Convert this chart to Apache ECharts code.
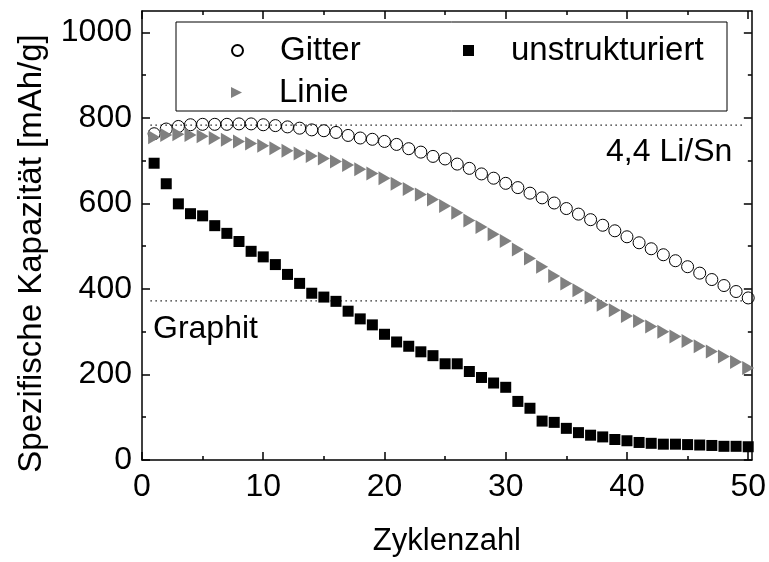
<!DOCTYPE html>
<html>
<head>
<meta charset="utf-8">
<script src="https://cdn.jsdelivr.net/npm/echarts@6/dist/echarts.min.js"></script>
<style>
  html, body { margin: 0; padding: 0; background: #fff; }
  #chart { width: 769px; height: 562px; }
</style>
</head>
<body>
<div id="chart"></div>
<script>
// Cycle numbers 1..50
const cycles = [1,2,3,4,5,6,7,8,9,10,11,12,13,14,15,16,17,18,19,20,21,22,23,24,25,
                26,27,28,29,30,31,32,33,34,35,36,37,38,39,40,41,42,43,44,45,46,47,48,49,50];

// Specific capacity [mAh/g] per cycle
const gitter = [763,774,780,784,785,785,785,786,786,784,782,779,776,772,770,766,
                759,753,750,745,738,728,720,710,704,692,682,669,659,647,637,624,
                613,601,588,575,562,549,536,522,508,494,480,466,452,437,422,408,394,379];
const linie = [755,760,762,760,757,753,749,745,740,735,729,723,717,711,705,698,
               690,680,670,659,646,634,621,609,594,578,560,545,528,512,492,471,
               452,430,413,397,380,363,350,337,325,312,300,289,278,266,254,242,229,215];
const unstrukturiert = [694,646,599,576,571,548,530,511,488,475,457,434,413,390,381,371,
                        348,330,316,294,276,266,253,244,225,225,207,193,180,170,137,121,
                        91,88,74,64,58,54,48,45,41,39,37,37,36,35,34,32,32,31];

// Theoretical reference capacities
const refLiSn = 783;
const refGraphit = 372;
const refSpan = [0.7, 49.5];

const xMajor = [0, 10, 20, 30, 40, 50];
const xMinor = [5, 15, 25, 35, 45];
const yMajor = [0, 200, 400, 600, 800, 1000];
const yMinor = [100, 300, 500, 700, 900];

const seriesNames = ['Gitter', 'Linie', 'unstrukturiert'];
const axisTitles = { x: 'Zyklenzahl', y: 'Spezifische Kapazität [mAh/g]' };
const refTexts = ['4,4 Li/Sn', 'Graphit'];

const pair = (vals) => cycles.map((c, i) => [c, vals[i]]);

const FONT = 'Liberation Sans, Arial, sans-serif';
const FS = 32;
const X_MAX = 50.3, Y_MAX = 1050;

function xAx(position, ticks, len, showLine, labels) {
  return {
    type: 'value', position: position, min: 0, max: X_MAX, offset: 0,
    axisLine: { show: showLine, onZero: false, lineStyle: { color: '#000', width: 1.5 } },
    axisTick: { show: true, inside: true, length: len, customValues: ticks,
                lineStyle: { color: '#000', width: 1.5 } },
    axisLabel: labels ? { show: true, customValues: ticks, color: '#000', fontSize: FS,
                          fontFamily: FONT, margin: 11, formatter: (v) => String(v) }
                      : { show: false },
    splitLine: { show: false }
  };
}
function yAx(position, ticks, len, showLine, labels) {
  return {
    type: 'value', position: position, min: 0, max: Y_MAX, offset: 0,
    axisLine: { show: showLine, onZero: false, lineStyle: { color: '#000', width: 1.5 } },
    axisTick: { show: true, inside: true, length: len, customValues: ticks,
                lineStyle: { color: '#000', width: 1.5 } },
    axisLabel: labels ? { show: true, customValues: ticks, color: '#000', fontSize: FS,
                          fontFamily: FONT, margin: 10, formatter: (v) => String(v) }
                      : { show: false },
    splitLine: { show: false }
  };
}

const xAxes = [
  Object.assign(xAx('bottom', xMajor, 8, true, true), {
    name: axisTitles.x, nameLocation: 'middle', nameGap: 66,
    nameTextStyle: { color: '#000', fontSize: 31, fontFamily: FONT }
  }),
  xAx('bottom', xMinor, 4, false, false),
  xAx('top', xMajor, 8, true, false),
  xAx('top', xMinor, 4, false, false)
];
const yAxes = [
  Object.assign(yAx('left', yMajor, 8, true, true), {
    name: axisTitles.y, nameLocation: 'middle', nameGap: 94,
    nameTextStyle: { color: '#000', fontSize: 33, fontFamily: FONT, padding: [0, 36, 0, 0] }
  }),
  yAx('left', yMinor, 4, false, false),
  yAx('right', yMajor, 8, true, false),
  yAx('right', yMinor, 4, false, false)
];

const triRight = 'path://M0,0 L10,5 L0,10 Z';

function refLine(v) {
  return {
    type: 'line', silent: true, symbol: 'none', z: 1,
    data: [[refSpan[0], v], [refSpan[1], v]],
    lineStyle: { color: '#000', width: 1.3, type: [1.3, 3.7] }
  };
}

function legendFor(name, left, top, padLeft) {
  return {
    data: [name], left: left, top: top, orient: 'horizontal',
    itemWidth: 11, itemHeight: 11, selectedMode: false,
    textStyle: { color: '#000', fontSize: 33, fontFamily: FONT, padding: [0, 0, 0, padLeft] }
  };
}

const chart = echarts.init(document.getElementById('chart'), null, { renderer: 'canvas' });
chart.setOption({
  animation: false,
  backgroundColor: '#fff',
  grid: { left: 142, right: 16, top: 11, bottom: 96, containLabel: false },
  xAxis: xAxes,
  yAxis: yAxes,
  legend: [
    legendFor(seriesNames[0], 226, 29, 32),
    legendFor(seriesNames[2], 458, 29, 32),
    legendFor(seriesNames[1], 226, 71, 32)
  ],
  graphic: [
    { type: 'rect', z: 0, shape: { x: 176, y: 22, width: 551, height: 89 },
      style: { fill: '#fff', stroke: '#000', lineWidth: 1 } },
    { type: 'text', left: 606, top: 136, z: 5,
      style: { text: refTexts[0], fill: '#000', fontSize: FS, fontFamily: FONT } },
    { type: 'text', left: 153, top: 313, z: 5,
      style: { text: refTexts[1], fill: '#000', fontSize: FS, fontFamily: FONT } }
  ],
  series: [
    refLine(refLiSn),
    refLine(refGraphit),
    {
      name: seriesNames[0], type: 'scatter', z: 3, data: pair(gitter),
      symbol: 'circle', symbolSize: 12,
      itemStyle: { color: 'rgba(255,255,255,0)', borderColor: '#000', borderWidth: 1, opacity: 1 }
    },
    {
      name: seriesNames[1], type: 'scatter', z: 4, data: pair(linie),
      symbol: triRight, symbolSize: [12, 14],
      itemStyle: { color: '#808080', opacity: 1 }
    },
    {
      name: seriesNames[2], type: 'scatter', z: 5, data: pair(unstrukturiert),
      symbol: 'rect', symbolSize: 11,
      itemStyle: { color: '#000', opacity: 1 }
    }
  ]
});
</script>
</body>
</html>
